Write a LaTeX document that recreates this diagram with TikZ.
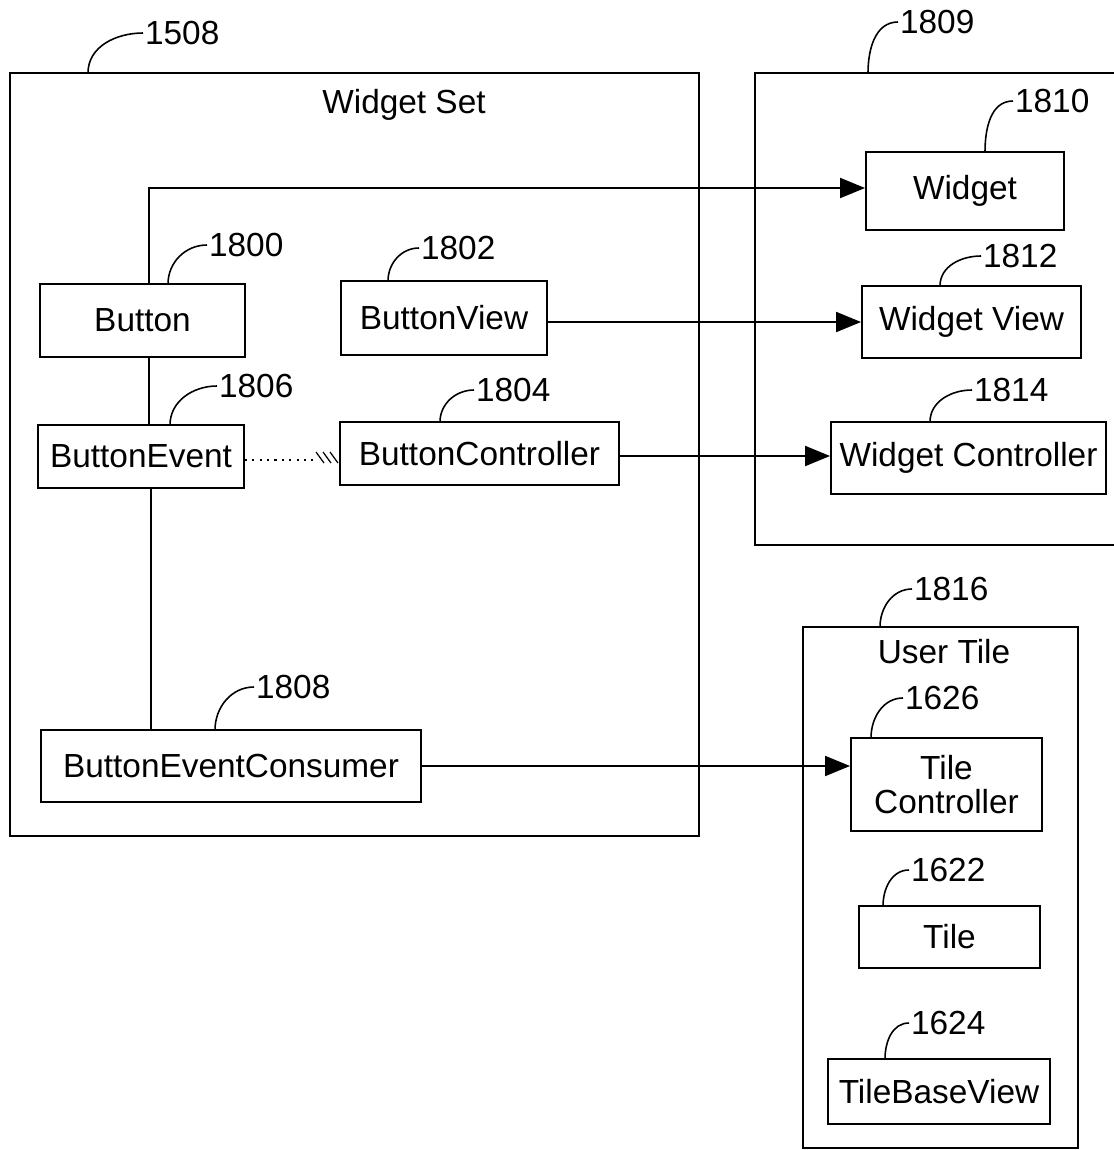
\documentclass[tikz,border=0pt]{standalone}
\usepackage{fontspec}
\setmainfont{Liberation Sans}
\usetikzlibrary{arrows.meta}
\tikzset{
  box/.style={draw, line width=1.1pt, inner sep=0pt},
  ref/.style={anchor=west, inner sep=1pt},
  lead/.style={line width=0.9pt},
  link/.style={line width=1.1pt},
  arr/.style={link, -{Triangle[length=0.5cm, width=0.4cm]}}
}
\def\fs{\fontsize{19}{22}\selectfont}

\begin{document}
\begin{tikzpicture}[x=0.02cm, y=-0.02cm, font=\fs]
\useasboundingbox (0,0) rectangle (1113,1150);

% outer boxes
\draw[box] (10,73) rectangle (699,836);
\node at (404,105) {Widget Set};
\draw[box] (1125,73) -- (755,73) -- (755,545) -- (1125,545);
\draw[box] (803,627) rectangle (1078,1148);
\node at (944,652) {User Tile};

% boxes
\node[box, minimum width=4.1cm, minimum height=1.46cm] (btn) at (142.5,320.5) {Button};
\node[box, minimum width=4.12cm, minimum height=1.48cm] (bview) at (444,318) {ButtonView};
\node[box, minimum width=4.12cm, minimum height=1.26cm] (bevent) at (141,456.5) {ButtonEvent};
\node[box, minimum width=5.58cm, minimum height=1.26cm] (bctrl) at (479.5,453.5) {ButtonController};
\node[box, minimum width=7.6cm, minimum height=1.44cm] (consumer) at (231,766) {ButtonEventConsumer};
\node[box, minimum width=3.96cm, minimum height=1.56cm] (widget) at (965,191) {Widget};
\node[box, minimum width=4.38cm, minimum height=1.44cm] (wview) at (971.5,322) {Widget View};
\node[box, minimum width=5.5cm, minimum height=1.44cm] (wctrl) at (968.5,458) {Widget Controller};
\node[box, minimum width=3.82cm, minimum height=1.86cm, align=center] (tctrl) at (946.5,784.5) {Tile\\[-3pt]Controller};
\node[box, minimum width=3.62cm, minimum height=1.24cm] (tile) at (949.5,937) {Tile};
\node[box, minimum width=4.44cm, minimum height=1.3cm] (tbview) at (939,1091.5) {TileBaseView};

% reference numbers
\node[ref] (n1508) at (143,33) {1508};
\node[ref] (n1809) at (898,22) {1809};
\node[ref] (n1810) at (1013,101) {1810};
\node[ref] (n1812) at (981,256) {1812};
\node[ref] (n1814) at (972,390) {1814};
\node[ref] (n1800) at (207,245) {1800};
\node[ref] (n1802) at (419,248) {1802};
\node[ref] (n1806) at (217,386) {1806};
\node[ref] (n1804) at (474,390) {1804};
\node[ref] (n1808) at (254,687) {1808};
\node[ref] (n1816) at (912,589) {1816};
\node[ref] (n1626) at (903,698) {1626};
\node[ref] (n1622) at (909,870) {1622};
\node[ref] (n1624) at (909,1023) {1624};

% leaders
\draw[lead] (88,73) to[out=90, in=180] (n1508.west);
\draw[lead] (868,73) to[out=90, in=180] (n1809.west);
\draw[lead] (985,152) to[out=90, in=180] (n1810.west);
\draw[lead] (940,286) to[out=90, in=180] (n1812.west);
\draw[lead] (930,422) to[out=90, in=180] (n1814.west);
\draw[lead] (168,284) to[out=90, in=180] (n1800.west);
\draw[lead] (388,281) to[out=90, in=180] (n1802.west);
\draw[lead] (170,425) to[out=90, in=180] (n1806.west);
\draw[lead] (440,422) to[out=90, in=180] (n1804.west);
\draw[lead] (215,730) to[out=90, in=180] (n1808.west);
\draw[lead] (880,627) to[out=90, in=180] (n1816.west);
\draw[lead] (871,738) to[out=90, in=180] (n1626.west);
\draw[lead] (883,906) to[out=90, in=180] (n1622.west);
\draw[lead] (885,1059) to[out=90, in=180] (n1624.west);

% connectors
\draw[arr] (btn.north -| 149,0) |- (widget.west |- 0,188);
\draw[arr] (bview.east |- 0,322) -- (wview.west |- 0,322);
\draw[arr] (bctrl.east |- 0,456) -- (wctrl.west |- 0,456);
\draw[arr] (consumer.east |- 0,766) -- (tctrl.west |- 0,766);
\draw[link] (btn.south -| 149,0) -- (bevent.north -| 149,0);
\draw[link] (bevent.south -| 151,0) -- (consumer.north -| 151,0);
\draw[lead, dash pattern=on 1.2pt off 3pt] (bevent.east |- 0,460) -- (314,460);
\foreach \x in {316, 323, 330}{
  \draw[line width=0.7pt] (\x,452) -- (\x+8,463);
}
\end{tikzpicture}
\end{document}
